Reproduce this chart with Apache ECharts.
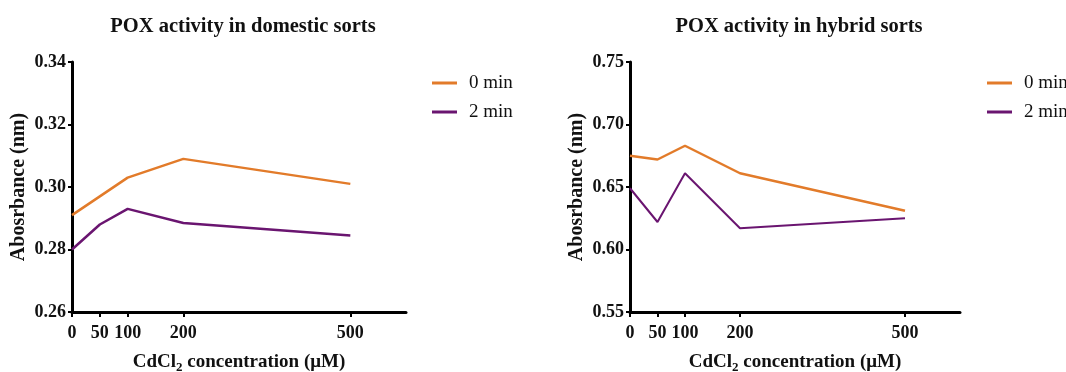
<!DOCTYPE html>
<html>
<head>
<meta charset="utf-8">
<script src="https://cdn.jsdelivr.net/npm/echarts@6/dist/echarts.min.js"></script>
<style>
  html, body { margin: 0; padding: 0; background: #fff; }
  #chart { width: 1066px; height: 372px; }
</style>
</head>
<body>
<div id="chart"></div>
<script>
// concentrations (µM)
const doses = [0, 50, 100, 200, 500];
const xTicks = [0, 50, 100, 200, 500];

// domestic sorts
const domestic0 = [0.291, 0.297, 0.303, 0.309, 0.301];
const domestic2 = [0.280, 0.288, 0.293, 0.2885, 0.2845];

// hybrid sorts
const hybrid0 = [0.675, 0.672, 0.683, 0.661, 0.631];
const hybrid2 = [0.649, 0.622, 0.661, 0.617, 0.625];

const seriesNames = ['0 min', '2 min'];
const ORANGE = '#E27B2A';
const PURPLE = '#6A1570';
const FONT = 'Liberation Serif';

const pairs = (ys) => doses.map((d, i) => [d, ys[i]]);

function xAxisFor(idx) {
  return {
    type: 'value', gridIndex: idx, min: 0, max: 600,
    name: '{a|CdCl}{s|2}{a| concentration (μM)}',
    nameLocation: 'middle', nameGap: 39,
    nameTextStyle: {
      rich: {
        a: { fontFamily: FONT, fontWeight: 'bold', fontSize: 19, color: '#111' },
        s: { fontFamily: FONT, fontWeight: 'bold', fontSize: 13, color: '#111', padding: [10, 0, 0, 0] }
      }
    },
    splitLine: { show: false },
    axisLine: { lineStyle: { color: '#000', width: 3 } },
    axisTick: { customValues: xTicks, length: 5, lineStyle: { width: 2, color: '#000' } },
    axisLabel: {
      customValues: xTicks, margin: 12,
      fontFamily: FONT, fontWeight: 'bold', fontSize: 18, color: '#111'
    }
  };
}

function yAxisFor(idx, min, max, step) {
  return {
    type: 'value', gridIndex: idx, min: min, max: max, interval: step,
    name: 'Abosrbance (nm)',
    nameLocation: 'middle', nameGap: 43,
    nameTextStyle: { fontFamily: FONT, fontWeight: 'bold', fontSize: 20, color: '#111' },
    splitLine: { show: false },
    axisLine: { show: true, lineStyle: { color: '#000', width: 3 } },
    axisTick: { show: true, length: 4, lineStyle: { width: 2, color: '#000' } },
    axisLabel: {
      margin: 6, fontFamily: FONT, fontWeight: 'bold', fontSize: 18, color: '#111',
      formatter: (v) => v.toFixed(2)
    }
  };
}

function line(name, data, idx, color, width) {
  return {
    type: 'line', name: name, xAxisIndex: idx, yAxisIndex: idx,
    data: pairs(data), showSymbol: false, symbol: 'none',
    lineStyle: { color: color, width: width },
    itemStyle: { color: color },
    animation: false
  };
}

function legendAt(left) {
  return {
    data: seriesNames, orient: 'vertical', left: left, top: 68,
    icon: 'rect', itemWidth: 25, itemHeight: 3, itemGap: 9,
    textStyle: { fontFamily: FONT, fontSize: 19, color: '#111', lineHeight: 20, padding: [0, 0, 0, 7] }
  };
}

const chart = echarts.init(document.getElementById('chart'));
chart.setOption({
  backgroundColor: '#fff',
  animation: false,
  title: [
    { text: 'POX activity in domestic sorts', left: 238, top: 11, textAlign: 'center',
      textStyle: { fontFamily: FONT, fontWeight: 'bold', fontSize: 20.5, color: '#111' } },
    { text: 'POX activity in hybrid sorts', left: 794, top: 11, textAlign: 'center',
      textStyle: { fontFamily: FONT, fontWeight: 'bold', fontSize: 20.5, color: '#111' } }
  ],
  legend: [legendAt(427), legendAt(982)],
  grid: [
    { left: 72, top: 62, width: 334, height: 250, outerBoundsMode: 'none' },
    { left: 630, top: 62, width: 330, height: 250, outerBoundsMode: 'none' }
  ],
  xAxis: [xAxisFor(0), xAxisFor(1)],
  yAxis: [yAxisFor(0, 0.26, 0.34, 0.02), yAxisFor(1, 0.55, 0.75, 0.05)],
  series: [
    line(seriesNames[0], domestic0, 0, ORANGE, 2.5),
    line(seriesNames[1], domestic2, 0, PURPLE, 2.5),
    line(seriesNames[0], hybrid0, 1, ORANGE, 2.5),
    line(seriesNames[1], hybrid2, 1, PURPLE, 2)
  ]
});
</script>
</body>
</html>
